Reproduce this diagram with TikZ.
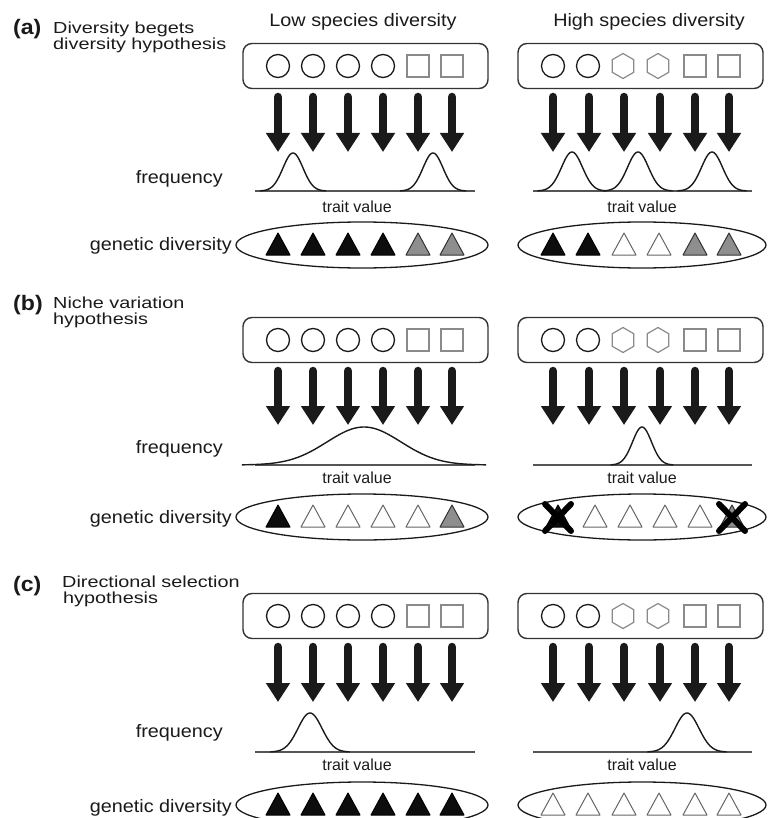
\documentclass[tikz,border=0pt]{standalone}
\usepackage{fontspec}
\setmainfont{Liberation Sans}[FakeStretch=1.1]
\newfontfamily\tvfont{Liberation Sans}
\newfontfamily\ttlfont{Liberation Sans}[FakeStretch=1.24]
\usetikzlibrary{arrows.meta,shapes.geometric}
\definecolor{ink}{HTML}{1A1A1A}
\definecolor{shapegray}{HTML}{8A8A8A}
\definecolor{trigray}{HTML}{8E8E8E}
\definecolor{boxline}{HTML}{333333}
\definecolor{axisgray}{HTML}{555555}

\tikzset{
  hdr/.style={font=\fontsize{18}{18}\selectfont, text=ink, inner sep=0pt, anchor=base},
  lbl/.style={font=\fontsize{18}{18}\selectfont, text=ink, inner sep=0pt, anchor=base east},
  ttl/.style={font=\ttlfont\fontsize{16}{16.5}\selectfont, text=ink, inner sep=0pt, anchor=north west, align=left},
  tag/.style={font=\fontsize{21}{21}\selectfont\bfseries, text=ink, inner sep=0pt, anchor=base west},
  tv/.style={font=\tvfont\fontsize{16}{16}\selectfont, text=ink, inner sep=0pt, anchor=base},
  groupbox/.style={draw=boxline, line width=1.4pt, rounded corners=9pt, minimum width=245pt, minimum height=45pt, inner sep=0pt},
  circ/.style={circle, draw=ink, line width=1.3pt, minimum size=23pt, inner sep=0pt},
  sq/.style={rectangle, draw=shapegray, line width=1.3pt, minimum size=22pt, inner sep=0pt},
  hex/.style={regular polygon, regular polygon sides=6, shape border rotate=30, draw=shapegray, line width=1.2pt, minimum size=25pt, inner sep=0pt},
  gen/.style={ellipse, draw=ink, line width=1.3pt, minimum height=46pt, inner sep=0pt},
  bigarrow/.style={draw=ink, line width=8.5pt, line cap=round, -{Triangle[width=23pt,length=19pt]}},
  axisline/.style={draw=axisgray, line width=1.4pt},
  curve/.style={draw=ink, line width=1.4pt},
  triK/.style={draw=black, fill=black!95, line width=1pt, line join=round},
  triG/.style={draw=black!80, fill=trigray, line width=1pt, line join=round},
  triW/.style={draw=black!60, fill=white, line width=1pt, line join=round},
  xmark/.style={draw=black, line width=6pt, line cap=round},
}

% #1 prefix, #2 box centre y, #3 arrow top, #4 arrow tip, #5 axis y,
% #6 trait baseline, #7 frequency baseline, #8 ellipse centre y, #9 genetic baseline
\newcommand{\panelrow}[9]{%
  \node[groupbox] (#1boxL) at (365.5,#2) {};
  \node[groupbox] (#1boxR) at (640.5,#2) {};
  \foreach \x [count=\i] in {278,313,348,383}
    \node[circ] (#1Lc\i) at (\x,#2) {};
  \foreach \x [count=\i] in {418,452}
    \node[sq] (#1Ls\i) at (\x,#2) {};
  \foreach \x [count=\i] in {553,588}
    \node[circ] (#1Rc\i) at (\x,#2) {};
  \foreach \x [count=\i] in {623,658}
    \node[hex] (#1Rh\i) at (\x,#2) {};
  \foreach \x [count=\i] in {695,729}
    \node[sq] (#1Rs\i) at (\x,#2) {};
  \foreach \x [count=\i] in {278,313,348,383,418,452,553,589,624,660,695,729}{
    \coordinate (#1as\i) at (\x,#3);
    \coordinate (#1ae\i) at (\x,#4);
    \draw[bigarrow] (#1as\i) -- (#1ae\i);
  }
  \coordinate (#1axL1) at (255,#5); \coordinate (#1axL2) at (475,#5);
  \coordinate (#1axR1) at (533,#5); \coordinate (#1axR2) at (752,#5);
  \draw[axisline] (#1axL1) -- (#1axL2);
  \draw[axisline] (#1axR1) -- (#1axR2);
  \node[tv] (#1tvL) at (357,#6) {trait value};
  \node[tv] (#1tvR) at (642,#6) {trait value};
  \node[lbl] (#1freq) at (223,#7) {frequency};
  \node[gen, minimum width=252pt] (#1genL) at (362,#8) {};
  \node[gen, minimum width=248pt] (#1genR) at (642,#8) {};
  \node[lbl] (#1gd) at (232,#9) {genetic diversity};
}
% gaussian: #1 mu, #2 sigma, #3 height, #4 axis y
\newcommand{\bump}[4]{%
  \draw[curve] plot[domain={#1-3.3*#2}:{#1+3.3*#2}, samples=90, smooth] (\x,{#4-#3*exp(-0.5*((\x-#1)/#2)^2)});
}
% triangle: #1 style, #2 x, #3 ellipse centre y
\newcommand{\tri}[3]{%
  \draw[#1] (#2-12,#3+10) -- (#2,#3-12) -- (#2+12,#3+10) -- cycle;
}
\newcommand{\xout}[2]{%
  \draw[xmark] (#1-13,#2-13) -- (#1+13,#2+14);
  \draw[xmark] (#1+13,#2-13) -- (#1-13,#2+14);
}

\begin{document}
\begin{tikzpicture}[x=1pt,y=-1pt]
\useasboundingbox (0,0) rectangle (773,818);

% headers
\node[hdr] (hlow) at (363,27) {Low species diversity};
\node[hdr] (hhigh) at (649,27) {High species diversity};

% ---------- (a) ----------
\node[tag] (taga) at (13,35) {(a)};
\node[ttl] (ta) at (53,21.5) {Diversity begets\\diversity hypothesis};
\panelrow{a}{66}{97}{152}{191}{212}{184}{245}{250}
\bump{293}{10}{38}{191}
\bump{433}{10}{38}{191}
\bump{572}{10.5}{39}{191}
\bump{638}{10.5}{39}{191}
\bump{712}{10.5}{39}{191}
\foreach \x in {278,313,348,383} {\tri{triK}{\x}{245}}
\foreach \x in {418,452} {\tri{triG}{\x}{245}}
\foreach \x in {553,588} {\tri{triK}{\x}{245}}
\foreach \x in {624,659} {\tri{triW}{\x}{245}}
\foreach \x in {695,729} {\tri{triG}{\x}{245}}

% ---------- (b) ----------
\node[tag] (tagb) at (13,310) {(b)};
\node[ttl] (tb) at (53,296.5) {Niche variation\\hypothesis};
\panelrow{b}{340}{371}{425}{465}{483}{453}{517}{523}
\bump{364}{37}{38}{465}
\bump{642}{9.5}{38}{465}
\tri{triK}{278}{517}
\foreach \x in {313,348,383,418} {\tri{triW}{\x}{517}}
\tri{triG}{452}{517}
\tri{triK}{558}{517}
\foreach \x in {595,630,665,700} {\tri{triW}{\x}{517}}
\tri{triG}{732}{517}
\xout{558}{517}
\xout{732}{517}

% ---------- (c) ----------
\node[tag] (tagc) at (13,591) {(c)};
\node[ttl] (tc) at (62,575.5) {Directional selection\\\hspace*{1pt}hypothesis};
\panelrow{c}{616}{647}{702}{752}{770}{737}{805}{812}
\bump{310}{12}{39}{752}
\bump{687}{12}{39}{752}
\foreach \x in {278,313,348,383,418,452} {\tri{triK}{\x}{805}}
\foreach \x in {553,588,624,659,695,729} {\tri{triW}{\x}{805}}
\end{tikzpicture}
\end{document}
